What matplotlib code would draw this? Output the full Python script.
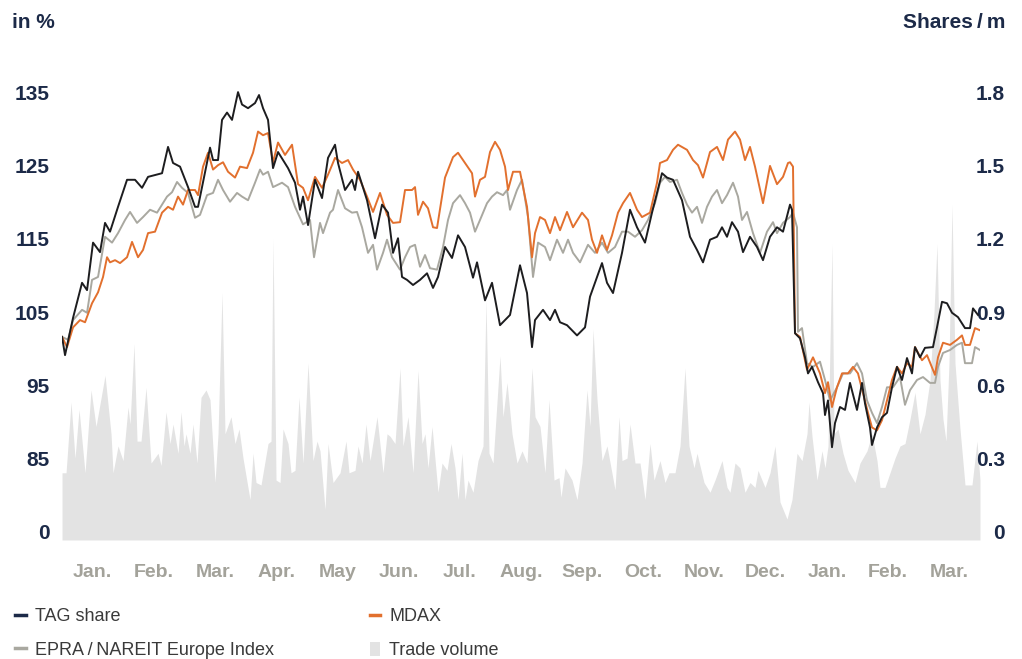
import numpy as np
import matplotlib.pyplot as plt
from matplotlib.lines import Line2D
from matplotlib.patches import Patch

plt.rcParams['font.family'] = ['Liberation Sans Narrow', 'Liberation Sans', 'DejaVu Sans']

months = ['Jan.', 'Feb.', 'Mar.', 'Apr.', 'May', 'Jun.', 'Jul.', 'Aug.', 'Sep.',
          'Oct.', 'Nov.', 'Dec.', 'Jan.', 'Feb.', 'Mar.']

# day offsets from start of period, index values in %
tag_day = [0, 1.5, 5.5, 10, 12.5, 15.5, 19, 21.5, 24, 28,
           32.5, 36.5, 40, 43, 50, 53, 55.5, 59, 63, 66.5,
           68, 74, 75.5, 78, 80, 82.5, 85, 88, 90, 93,
           96.5, 98.5, 100.5, 103, 105.5, 108, 113, 116.5, 119, 120.5,
           123, 126.5, 130, 133, 136.5, 138, 141.5, 145, 146.5, 148,
           152.5, 156.5, 160, 163, 165.5, 168, 170, 172.5, 175.5, 179,
           182.5, 185.5, 188, 191.5, 195, 198, 201.5, 205.5, 207.5, 211.5,
           215, 219, 224, 229, 232.5, 235, 236.5, 240.5, 244, 246.5,
           249, 252.5, 257.5, 261.5, 264, 267.5, 270, 272.5, 275.5, 280,
           284, 287.5, 291.5, 295, 300, 302.5, 305.5, 310, 314, 317.5,
           320.5, 324, 327.5, 330, 332.5, 335, 338, 340.5, 344, 347.5,
           350.5, 354, 357.5, 360.5, 364, 365, 366.5, 369, 371.5, 373,
           375, 378, 380.5, 381.5, 383, 385, 386.5, 389, 391.5, 394,
           397.5, 400, 401.5, 404, 405, 407.5, 410, 412.5, 415, 417.5,
           420, 422.5, 425, 426.5, 429, 431.5, 435.5, 437.5, 440, 442.5,
           445, 448, 451.5, 454, 455.5, 458]
tag_share = [101.6, 99.1, 104.2, 109, 108, 114.5, 113.2, 117.2, 116, 119.4,
             123.1, 123.1, 122, 123.5, 124, 127.6, 125.4, 124.9, 122.1, 119.4,
             119.4, 127.5, 125.8, 125.8, 131.3, 132.3, 131.3, 135.1, 133.4, 132.9,
             133.6, 134.7, 132.9, 131.3, 124.7, 126.9, 124.7, 122.7, 119, 120.8,
             116.9, 123.1, 120.6, 126.1, 127.9, 125.4, 121.7, 123.1, 121.7, 124.2,
             120.3, 115.1, 119.7, 118.6, 113.1, 115.1, 109.8, 109.4, 108.7, 109.4,
             110.3, 108.3, 109.8, 113.9, 112.4, 115.5, 113.9, 109.7, 111.8, 106.6,
             109, 103.2, 104.6, 111.4, 107.6, 100.2, 103.9, 105.3, 103.9, 105.3,
             103.6, 103.2, 101.8, 102.9, 107.1, 109.8, 111.7, 109, 107.6, 113.1,
             119, 116.6, 114.5, 118.6, 124, 123.4, 123.1, 120.3, 115.3, 113.5,
             111.8, 114.9, 115.3, 116.6, 115.3, 117.3, 116, 113.2, 115.3, 113.9,
             112.1, 115.3, 116.6, 116, 119.7, 119, 102.1, 101.4, 98.8, 96.6,
             97.5, 95.4, 93.9, 90.9, 92.9, 86.5, 89.8, 92, 91.6, 95.3,
             91.6, 95.3, 92.5, 89.2, 86.8, 89.2, 90.6, 91.2, 94.7, 97.5,
             95.7, 98.7, 96.6, 100.2, 98.8, 100.1, 100.2, 102.9, 106.4, 106.2,
             104.9, 104.3, 102.8, 102.8, 105.5, 104.6]

mdax_day = [0, 2.5, 5.5, 9, 11.5, 15, 18, 20.5, 22.5, 24,
            26.5, 29, 32.5, 35, 38, 40.5, 43, 46.5, 50, 53,
            55.5, 58, 60.5, 63, 66.5, 68, 70.5, 73, 75.5, 78,
            80.5, 83, 86.5, 89, 92.5, 95.5, 98, 100.5, 103, 105.5,
            108, 111.5, 115, 118, 120.5, 123, 126.5, 130, 133, 136.5,
            140, 143, 145.5, 149, 152.5, 155.5, 159, 162.5, 165.5, 169,
            171.5, 175, 176.5, 178, 180.5, 183, 185.5, 187.5, 191.5, 195.5,
            198, 201.5, 205, 206.5, 209, 211.5, 214, 216.5, 219, 221.5,
            223, 225.5, 229, 232.5, 235, 236.5, 239, 241.5, 244, 246.5,
            249, 252.5, 255.5, 260, 263, 265, 267.5, 270, 272.5, 275,
            278, 280.5, 284, 287.5, 290, 294, 297.5, 299, 302.5, 305.5,
            308, 312.5, 315.5, 318, 320.5, 324, 327.5, 330.5, 333, 336.5,
            339, 341.5, 344, 346.5, 350.5, 354, 357.5, 360.5, 363, 364,
            365.5, 366.5, 369, 372.5, 375.5, 379, 381.5, 383, 385, 387.5,
            390, 393, 395.5, 398, 400.5, 403, 405, 407.5, 410, 412.5,
            415, 417.5, 420, 422.5, 425, 426.5, 430, 432.5, 436.5, 438,
            440.5, 444, 447.5, 450, 451.5, 454, 456.5, 459]
mdax = [101.6, 100.2, 102.9, 103.9, 103.6, 106.2, 107.7, 109.8, 112.5, 111.8,
        112.1, 111.7, 112.5, 114.6, 112.5, 113.5, 115.8, 116, 118.6, 119.4,
        119, 120.8, 119.7, 121.7, 121.7, 121, 124.9, 126.8, 124.5, 125.1,
        125.5, 124.2, 123.4, 124.9, 124.7, 126.8, 129.7, 129.2, 129.5, 125.5,
        128.2, 126.5, 127.9, 122.5, 122, 120.3, 123.5, 122, 123.8, 126.1,
        125.4, 125.8, 124.5, 123.1, 120.8, 118.7, 121.3, 118.3, 117.2, 117.3,
        121.7, 121.7, 122.1, 118.3, 120.1, 119.2, 116.6, 116.5, 123.4, 126.2,
        126.8, 125.4, 124, 120.8, 123.1, 123.5, 126.9, 128.3, 127.2, 124.9,
        121.7, 124.2, 124.2, 119.4, 112.5, 115.8, 118, 117.6, 115.8, 118,
        116.2, 118.7, 116.6, 118.6, 117.6, 114.9, 113.1, 115.5, 113.5, 115.5,
        118.6, 119.9, 121.3, 119, 118, 118.6, 122.7, 125.4, 125.8, 127.2,
        127.9, 127.2, 125.8, 125.1, 123.4, 126.9, 127.6, 125.8, 128.6, 129.7,
        128.6, 125.8, 127.6, 124.9, 119.9, 125, 122.5, 123.5, 125.4, 125.5,
        124.9, 102.1, 101.6, 97.1, 98.8, 96.6, 93.9, 95.4, 92, 94.7,
        96.6, 96.6, 97.5, 96.6, 93.9, 91.2, 89.2, 88.8, 90.2, 92.9,
        95.7, 97.5, 96.6, 98, 97.5, 100.2, 98.4, 99.1, 96.4, 98.8,
        100.8, 100.5, 101.2, 101.8, 100.5, 100.5, 102.8, 102.5]

epra_day = [0, 3, 5.5, 10, 12.5, 15, 18, 21.5, 25, 28,
            31.5, 34, 37.5, 40.5, 44, 47.5, 50, 52.5, 55, 57.5,
            60, 63, 66.5, 69, 72.5, 75.5, 78, 80.5, 84, 87.5,
            90, 93, 96.5, 99, 100.5, 103, 105.5, 110, 113, 116.5,
            120.5, 124, 126, 129, 130.5, 134, 135.5, 138, 141.5, 145,
            147.5, 150, 153, 155.5, 157.5, 160.5, 162.5, 165, 169, 171.5,
            174, 176.5, 179, 181.5, 184, 187.5, 190.5, 193, 195.5, 199,
            201.5, 204, 206.5, 209, 212.5, 215, 217.5, 220.5, 222.5, 224,
            227.5, 230, 233, 235.5, 238, 241.5, 244, 247.5, 250.5, 253,
            255.5, 259, 263, 266.5, 270, 273, 276.5, 280, 283, 286.5,
            290, 293, 296.5, 299, 301.5, 304, 307.5, 310, 312.5, 315,
            317.5, 320, 322.5, 325, 327.5, 330, 332.5, 335.5, 338, 340,
            342.5, 345.5, 349, 352.5, 355.5, 357.5, 360.5, 364, 365.5, 367.5,
            368, 370, 372.5, 375.5, 379, 381.5, 384, 387.5, 390.5, 394,
            397.5, 400, 402.5, 405, 407.5, 410, 412.5, 415.5, 419, 421.5,
            424, 427.5, 430.5, 434, 436.5, 438, 440.5, 444, 447.5, 450,
            451.5, 455, 456.5, 459]
epra = [101.6, 101.2, 103.9, 105.3, 104.9, 109.4, 109.8, 115.3, 114.5, 115.8,
        117.6, 118.7, 117.2, 118, 119, 118.6, 119.7, 120.8, 121.4, 122.8,
        122, 121.3, 117.9, 118.3, 121, 121.3, 123.1, 121.7, 120.1, 121.3,
        120.8, 120.3, 122.7, 124.5, 123.8, 124.2, 122.1, 122.7, 122.1, 119.4,
        117, 117.6, 112.5, 117.2, 115.8, 118.6, 119, 121.7, 119.2, 118.6,
        118.7, 116.6, 113.1, 114.2, 110.8, 113.1, 114.9, 112.5, 110.8, 112.5,
        113.9, 114.2, 111.2, 112.8, 111, 110.8, 113.9, 117.6, 119.9, 121,
        119.9, 118.6, 116, 117.6, 119.9, 120.8, 121.4, 121, 121.7, 119,
        121.7, 123.1, 118, 109.8, 114.5, 113.9, 112.1, 114.9, 113.1, 114.9,
        113.1, 111.8, 114.2, 113.1, 114.5, 113.1, 113.9, 116, 116, 115.3,
        116.2, 117.6, 119.9, 122.7, 123.5, 122.8, 123.1, 121.3, 119.7, 118.6,
        119.4, 117.2, 119.4, 120.8, 121.7, 119.9, 121, 122.7, 120.8, 117.6,
        118.7, 115.8, 113.1, 116, 117.3, 115.8, 117.2, 118, 118.6, 116.6,
        102.3, 102.8, 98, 97.5, 98.2, 95.7, 92.9, 94.7, 96.6, 96.6,
        98, 96.6, 92.9, 91.2, 89.8, 92, 94.7, 94.7, 96.1, 92.3,
        94.3, 95.7, 96.1, 95.3, 95.3, 97.5, 99.4, 99.8, 100.5, 100.8,
        98, 98, 100.2, 99.8]

# trade volume, million shares
vol_day = [0, 2, 4.5, 6.5, 8.5, 11.5, 14.5, 17, 21.5, 24.5,
           25.5, 28, 30.5, 33, 34, 36, 37.5, 39.5, 42, 44.5,
           48, 49.5, 52, 54, 55.5, 58, 59.5, 61, 62, 64,
           65.5, 67.5, 69.5, 72, 74, 76.5, 78, 80, 81.5, 84.5,
           86.5, 88.5, 90.5, 94, 95.5, 97, 99.5, 103, 104.5, 105.5,
           107, 109, 110.5, 113, 114.5,
           116.5, 118.5, 120.5, 123, 125.5, 127.5, 129, 131.5, 133, 135.5,
           139, 142, 143.5, 146.5, 148, 150, 152, 154, 157.5, 160.5,
           162.5, 164, 166.5, 169, 170.5, 173, 175.5, 178, 180, 181.5,
           183, 185, 188, 190, 192.5, 194.5, 196.5, 198, 200, 201.5,
           203, 205.5, 208, 210.5, 212, 213.5, 215.5, 219, 220.5, 222.5,
           225, 227.5, 230, 232.5,
           235, 236.5, 239, 241.5, 243.5, 246, 248.5, 249.5, 251.5, 255,
           257.5, 260, 262.5, 264, 265.5, 267.5, 270, 272.5, 276.5, 278.5,
           280, 282.5, 284, 286.5, 289, 291.5, 294, 296, 299, 301.5,
           303.5, 306.5, 309, 311.5, 313.5, 316, 317.5, 321, 324, 326.5,
           330, 332.5, 334, 336.5, 339, 341.5, 344, 346.5,
           348, 351.5, 354, 356.5, 359, 362.5, 365, 367.5, 370, 372.5,
           373.5, 375, 377.5, 380, 381.5, 383, 385, 386, 388, 390.5,
           393, 396.5, 399, 402.5, 405, 407.5, 409, 411.5, 414, 416.5,
           419, 421.5, 424, 426.5, 429, 431.5, 434, 436, 437.5, 439,
           440.5, 442, 443.5, 445, 446.5, 449, 451.5, 455, 457.5, 459]
volume = [0.24, 0.24, 0.53, 0.30, 0.50, 0.24, 0.58, 0.43, 0.64, 0.40,
          0.24, 0.35, 0.29, 0.51, 0.44, 0.77, 0.37, 0.37, 0.59, 0.28,
          0.32, 0.27, 0.49, 0.36, 0.44, 0.32, 0.49, 0.35, 0.40, 0.32,
          0.44, 0.28, 0.55, 0.58, 0.54, 0.20, 0.40, 0.98, 0.40, 0.47,
          0.36, 0.42, 0.30, 0.13, 0.32, 0.20, 0.19, 0.36, 0.37, 1.20,
          0.21, 0.20, 0.42, 0.36, 0.24,
          0.25, 0.55, 0.28, 0.69, 0.29, 0.37, 0.33, 0.09, 0.36, 0.20,
          0.24, 0.37, 0.24, 0.25, 0.35, 0.28, 0.44, 0.29, 0.47, 0.24,
          0.40, 0.39, 0.36, 0.67, 0.35, 0.47, 0.24, 0.66, 0.36, 0.40,
          0.26, 0.43, 0.16, 0.28, 0.25, 0.36, 0.26, 0.13, 0.32, 0.13,
          0.21, 0.16, 0.29, 0.35, 0.95, 0.32, 0.28, 0.72, 0.47, 0.61,
          0.40, 0.28, 0.33, 0.28,
          0.67, 0.47, 0.43, 0.24, 0.54, 0.21, 0.22, 0.14, 0.26, 0.21,
          0.13, 0.28, 0.58, 0.43, 0.83, 0.54, 0.29, 0.35, 0.17, 0.47,
          0.29, 0.30, 0.44, 0.28, 0.28, 0.13, 0.36, 0.21, 0.29, 0.20,
          0.24, 0.24, 0.35, 0.67, 0.35, 0.26, 0.32, 0.20, 0.16, 0.21,
          0.29, 0.18, 0.16, 0.28, 0.26, 0.16, 0.20, 0.18,
          0.25, 0.18, 0.24, 0.35, 0.12, 0.05, 0.13, 0.32, 0.29, 0.40,
          0.53, 0.39, 0.21, 0.33, 0.26, 0.35, 1.18, 0.40, 0.42, 0.32,
          0.25, 0.20, 0.28, 0.33, 0.40, 0.29, 0.18, 0.18, 0.24, 0.30,
          0.35, 0.36, 0.46, 0.57, 0.40, 0.48, 0.62, 0.90, 1.18, 0.62,
          0.46, 0.37, 0.69, 1.34, 0.69, 0.42, 0.19, 0.19, 0.37, 0.21]

pct_ticks = [75, 85, 95, 105, 115, 125, 135]
pct_labels = ['0', '85', '95', '105', '115', '125', '135']
vol_ticks = [0, 0.3, 0.6, 0.9, 1.2, 1.5, 1.8]
vol_labels = ['0', '0.3', '0.6', '0.9', '1.2', '1.5', '1.8']

navy = '#1c2a48'
c_tag = '#1d1d1f'
c_mdax = '#e2702e'
c_epra = '#a9a8a0'
c_vol = '#e3e3e3'

fig = plt.figure(figsize=(10.22, 6.59), dpi=100)
ax = fig.add_axes([0.0607, 0.1806, 0.8982, 0.7284])
axv = ax.twinx()
ax.set_zorder(2)
axv.set_zorder(1)
ax.patch.set_visible(False)

y0, y1 = 73.8, 139.5
ax.set_ylim(y0, y1)
axv.set_ylim((y0 - 75) * 0.03, (y1 - 75) * 0.03)
ax.set_xlim(0, 459)

axv.fill_between(vol_day, volume, (y0 - 75) * 0.03, color=c_vol, lw=0)
ax.plot(epra_day, epra, color=c_epra, lw=1.4)
ax.plot(mdax_day, mdax, color=c_mdax, lw=1.4)
ax.plot(tag_day, tag_share, color=c_tag, lw=1.4)

for a in (ax, axv):
    for s in a.spines.values():
        s.set_visible(False)

month_pos = np.arange(15) * 30.6 + 15.3
ax.set_xticks(month_pos, months)
ax.tick_params(axis='x', length=0, pad=17, labelsize=14, labelcolor='#a3a29a')
ax.set_yticks(pct_ticks, pct_labels)
ax.tick_params(axis='y', length=0, pad=9, labelsize=15, labelcolor=navy)
axv.set_yticks(vol_ticks, vol_labels)
axv.tick_params(axis='y', length=0, pad=18, labelsize=15, labelcolor=navy)
for lbl in ax.get_xticklabels() + ax.get_yticklabels() + axv.get_yticklabels():
    lbl.set_fontweight('bold')
for lbl in axv.get_yticklabels():
    lbl.set_horizontalalignment('right')

fig.text(12 / 1022, 1 - 22 / 659, 'in %', ha='left', va='center',
         fontsize=15, fontweight='bold', color=navy)
fig.text(1005 / 1022, 1 - 22 / 659, 'Shares\u2009/\u2009m', ha='right', va='center',
         fontsize=15, fontweight='bold', color=navy)

handles = [Line2D([], [], color=navy, lw=2.5),
           Line2D([], [], color=c_epra, lw=2.5),
           Line2D([], [], color=c_mdax, lw=2.5),
           Patch(facecolor=c_vol, edgecolor='none')]
labels = ['TAG share', 'EPRA\u2009/\u2009NAREIT Europe Index', 'MDAX', 'Trade volume']
fig.legend(handles, labels, ncol=2, loc='upper left',
           bbox_to_anchor=(15 / 1022, 1 - 608 / 659), frameon=False,
           borderpad=0, borderaxespad=0, handlelength=0.6, handleheight=0.8,
           handletextpad=0.5, columnspacing=5.3, labelspacing=0.92,
           fontsize=13, labelcolor='#3a3a3a')

fig.savefig('out.png', dpi=100)
